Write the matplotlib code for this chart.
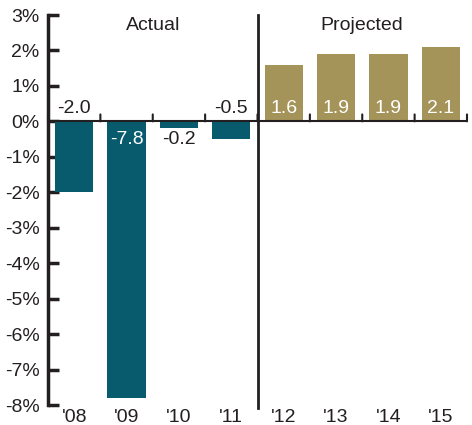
import matplotlib
matplotlib.use("Agg")
import matplotlib.pyplot as plt
from matplotlib.transforms import offset_copy

years = ["'08", "'09", "'10", "'11", "'12", "'13", "'14", "'15"]
values = [-2.0, -7.8, -0.2, -0.5, 1.6, 1.9, 1.9, 2.1]
labels = ["-2.0", "-7.8", "-0.2", "-0.5", "1.6", "1.9", "1.9", "2.1"]
placement = ["above", "inside_top", "below", "above", "inside", "inside", "inside", "inside"]
yticks = list(range(-8, 4))
ytick_labels = [f"{v}%" for v in yticks]
sections = ["Actual", "Projected"]

teal = "#085b6d"
gold = "#a59459"
dark = "#231f20"
FS = 14

plt.rcParams['font.family'] = ['Liberation Sans', 'DejaVu Sans']

fig = plt.figure(figsize=(4.72, 4.25), dpi=100)
ax = fig.add_axes([48/472, 20/425, 419/472, 390/425])

x = list(range(len(years)))
colors = [teal if v < 0 else gold for v in values]
ax.bar(x, values, width=0.73, color=colors, zorder=2)

ax.set_xlim(-0.5, 7.5)
ax.set_ylim(-8, 3)

for s in ['top', 'right', 'bottom']:
    ax.spines[s].set_visible(False)
ax.spines['left'].set_linewidth(2.5)
ax.spines['left'].set_color(dark)

ax.set_yticks(yticks)
ax.set_yticklabels(ytick_labels)
ax.tick_params(axis='y', direction='in', length=8, width=2.5, color=dark,
               labelsize=FS, labelcolor=dark, pad=6)

ax.set_xticks(x)
ax.set_xticklabels(years)
ax.tick_params(axis='x', length=0, labelsize=FS, labelcolor=dark, pad=3)

# zero line with short upward boundary ticks
ax.axhline(0, color=dark, lw=1.5, zorder=3)
bounds = [i + 0.5 for i in range(-1, len(years))]
for b in bounds:
    ax.annotate("", xy=(b, 0), xycoords='data',
                xytext=(0, 5), textcoords='offset points',
                arrowprops=dict(arrowstyle='-', color=dark, lw=1.5,
                                shrinkA=0, shrinkB=0),
                zorder=6, annotation_clip=False)

# divider between actual and projected
ax.axvline(3.5, ymin=-0.008, ymax=1.0, color=dark, lw=2, clip_on=False, zorder=3)

# section titles
ax.text(1.5, 2.7, sections[0], ha='center', va='center', fontsize=FS, color=dark)
ax.text(5.5, 2.7, sections[1], ha='center', va='center', fontsize=FS, color=dark)

for xi, v, lab, p in zip(x, values, labels, placement):
    if p == "above":
        tr = offset_copy(ax.transData, fig=fig, y=3, units='points')
        ax.text(xi, 0, lab, ha='center', va='bottom', fontsize=FS, color=dark, transform=tr, zorder=4)
    elif p == "inside_top":
        tr = offset_copy(ax.transData, fig=fig, y=-7, units='points')
        ax.text(xi, 0, lab, ha='center', va='top', fontsize=FS, color='white', transform=tr, zorder=4)
    elif p == "below":
        tr = offset_copy(ax.transData, fig=fig, y=-2, units='points')
        ax.text(xi, v, lab, ha='center', va='top', fontsize=FS, color=dark, transform=tr, zorder=4)
    else:
        tr = offset_copy(ax.transData, fig=fig, y=3, units='points')
        ax.text(xi, 0, lab, ha='center', va='bottom', fontsize=FS, color='white', transform=tr, zorder=4)

fig.savefig("out.png", dpi=100)
